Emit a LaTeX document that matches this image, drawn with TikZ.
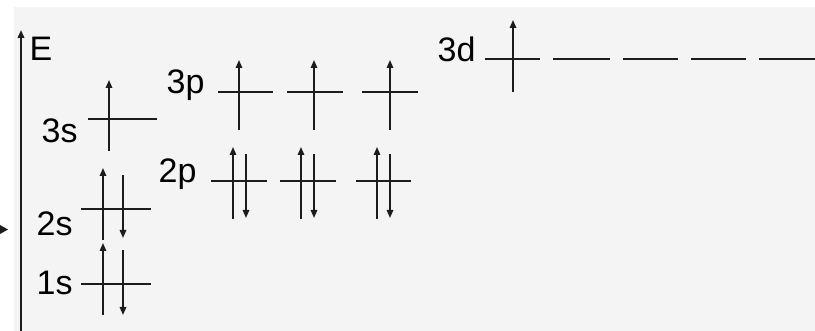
\documentclass[tikz,border=0pt]{standalone}
\usepackage{fontspec}
\setmainfont{Liberation Sans}
\usetikzlibrary{arrows.meta}
\definecolor{fondo}{HTML}{F4F4F4}
\definecolor{tinta}{HTML}{1C1C1C}
\begin{document}
\begin{tikzpicture}[x=1pt, y=-1pt, line width=1.2pt, line cap=butt, color=tinta,
  nivel/.style={line width=1.25pt},
  espin/.style={line width=1.6pt, -{Triangle[length=8pt,width=6.5pt]}},
  rotulo/.style={font=\fontsize{34}{38}\selectfont, inner sep=0pt, anchor=base west, text=black}]
  \useasboundingbox (0,0) rectangle (815,331);
  % el fondo
  \fill[white] (0,0) rectangle (815,331);
  \fill[fondo] (14,7) rectangle (815,331);
  % el eje de energia
  \coordinate (ejeA) at (21,331); \coordinate (ejeB) at (21,30);
  \draw[espin, line width=1.9pt] (ejeA) -- (ejeB);
  \node[rotulo] (E) at (29,61) {E};
  \fill (0,225) -- (8,229.5) -- (0,234) -- cycle;
  % los rotulos
  \node[rotulo] (n3s) at (41,143) {3s};
  \node[rotulo] (n2s) at (36,236) {2s};
  \node[rotulo] (n1s) at (36,295) {1s};
  \node[rotulo] (n3p) at (166,94) {3p};
  \node[rotulo] (n2p) at (158,183) {2p};
  \node[rotulo] (n3d) at (437,62) {3d};
  % los niveles
  \draw[nivel] (88,119) -- (157,119);
  \draw[nivel] (81,209) -- (151,209);
  \draw[nivel] (81,284) -- (151,284);
  \foreach \a/\b in {218/273, 287/343, 362/418} \draw[nivel] (\a,92) -- (\b,92);
  \foreach \a/\b in {211/267, 280/336, 356/411} \draw[nivel] (\a,181) -- (\b,181);
  \foreach \a/\b in {485/540, 553/610, 623/678, 691/746, 759/815} \draw[nivel] (\a,59) -- (\b,59);
  % los electrones
  \draw[espin] (109,151) -- (109,80);
  \draw[espin] (103,240) -- (103,168); \draw[espin] (123,175) -- (123,238);
  \draw[espin] (103,315) -- (103,243); \draw[espin] (123,250) -- (123,315);
  \foreach \x in {239, 314, 390} \draw[espin] (\x,130) -- (\x,60);
  \foreach \x/\y in {233/246, 301/314, 377/390} {
    \draw[espin] (\x,219) -- (\x,147);
    \draw[espin] (\y,154) -- (\y,218);
  }
  \draw[espin] (513,92) -- (513,20);
\end{tikzpicture}
\end{document}
